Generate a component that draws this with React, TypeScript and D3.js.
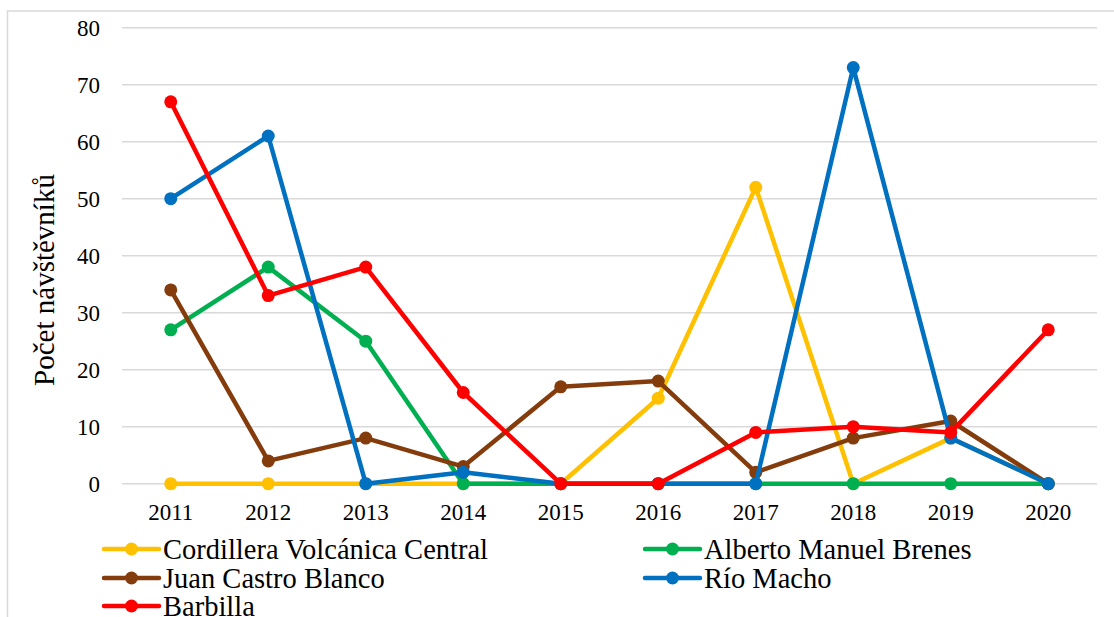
import React from "react";
import * as d3 from "d3";

const years = ["2011", "2012", "2013", "2014", "2015", "2016", "2017", "2018", "2019", "2020"];
const cordillera = [0, 0, 0, 0, 0, 15, 52, 0, 8, 0];
const alberto = [27, 38, 25, 0, 0, 0, 0, 0, 0, 0];
const juanCastro = [34, 4, 8, 3, 17, 18, 2, 8, 11, 0];
const rioMacho = [50, 61, 0, 2, 0, 0, 0, 73, 8, 0];
const barbilla = [67, 33, 38, 16, 0, 0, 9, 10, 9, 27];
const yTicks = [0, 10, 20, 30, 40, 50, 60, 70, 80];

const series = [
  { name: "Cordillera Volcánica Central", values: cordillera, color: "#FFC000" },
  { name: "Alberto Manuel Brenes", values: alberto, color: "#00B050" },
  { name: "Juan Castro Blanco", values: juanCastro, color: "#843C0C" },
  { name: "Río Macho", values: rioMacho, color: "#0070C0" },
  { name: "Barbilla", values: barbilla, color: "#FF0000" },
];

const W = 1114;
const H = 617;
const plot = { left: 122, right: 1097, top: 27.7, bottom: 483.7 };
const fontStyle = { fontFamily: "'Liberation Serif', 'Times New Roman', serif" };

export default function App() {
  const x = d3.scaleBand<string>().domain(years).range([plot.left, plot.right]);
  const y = d3.scaleLinear().domain([0, 80]).range([plot.bottom, plot.top]);
  const cx = (yr: string) => (x(yr) as number) + x.bandwidth() / 2;
  const line = d3
    .line<number>()
    .x((_, i) => cx(years[i]))
    .y((d) => y(d));

  const legendPos = [
    { lx: 104, ly: 549 },
    { lx: 645, ly: 549 },
    { lx: 104, ly: 578 },
    { lx: 645, ly: 578 },
    { lx: 104, ly: 606 },
  ];

  return (
    <svg
      width={W}
      height={H}
      style={{ position: "absolute", left: 0, top: 0, background: "#fff", ...fontStyle }}
    >
      <rect x={0} y={0} width={W} height={H} fill="#fff" />
      <rect x={7.5} y={11} width={1130} height={640} fill="none" stroke="#D9D9D9" strokeWidth={1.5} />
      {yTicks.map((t) => (
        <g key={t}>
          <line x1={plot.left} x2={plot.right} y1={y(t)} y2={y(t)} stroke="#D9D9D9" strokeWidth={1.5} />
          <text x={100} y={y(t)} dy="0.35em" textAnchor="end" fontSize={23} fill="#000" style={fontStyle}>
            {t}
          </text>
        </g>
      ))}
      {years.map((yr) => (
        <text key={yr} x={cx(yr)} y={520} textAnchor="middle" fontSize={23} fill="#000" style={fontStyle}>
          {yr}
        </text>
      ))}
      <text
        transform={`translate(54, ${280}) rotate(-90)`}
        textAnchor="middle"
        fontSize={29}
        fill="#000"
        style={fontStyle}
      >
        Počet návštěvníků
      </text>
      {series.map((s) => (
        <g key={s.name}>
          <path d={line(s.values) || ""} fill="none" stroke={s.color} strokeWidth={4.5} strokeLinejoin="round" strokeLinecap="round" />
          {s.values.map((v, i) => (
            <circle key={i} cx={cx(years[i])} cy={y(v)} r={6.5} fill={s.color} />
          ))}
        </g>
      ))}
      {series.map((s, i) => {
        const p = legendPos[i];
        return (
          <g key={"lg" + s.name}>
            <line x1={p.lx} x2={p.lx + 55} y1={p.ly} y2={p.ly} stroke={s.color} strokeWidth={4.5} strokeLinecap="round" />
            <circle cx={p.lx + 27.5} cy={p.ly} r={6.5} fill={s.color} />
            <text x={p.lx + 59} y={p.ly} dy="0.35em" fontSize={28.5} fill="#000" style={fontStyle}>
              {s.name}
            </text>
          </g>
        );
      })}
    </svg>
  );
}
